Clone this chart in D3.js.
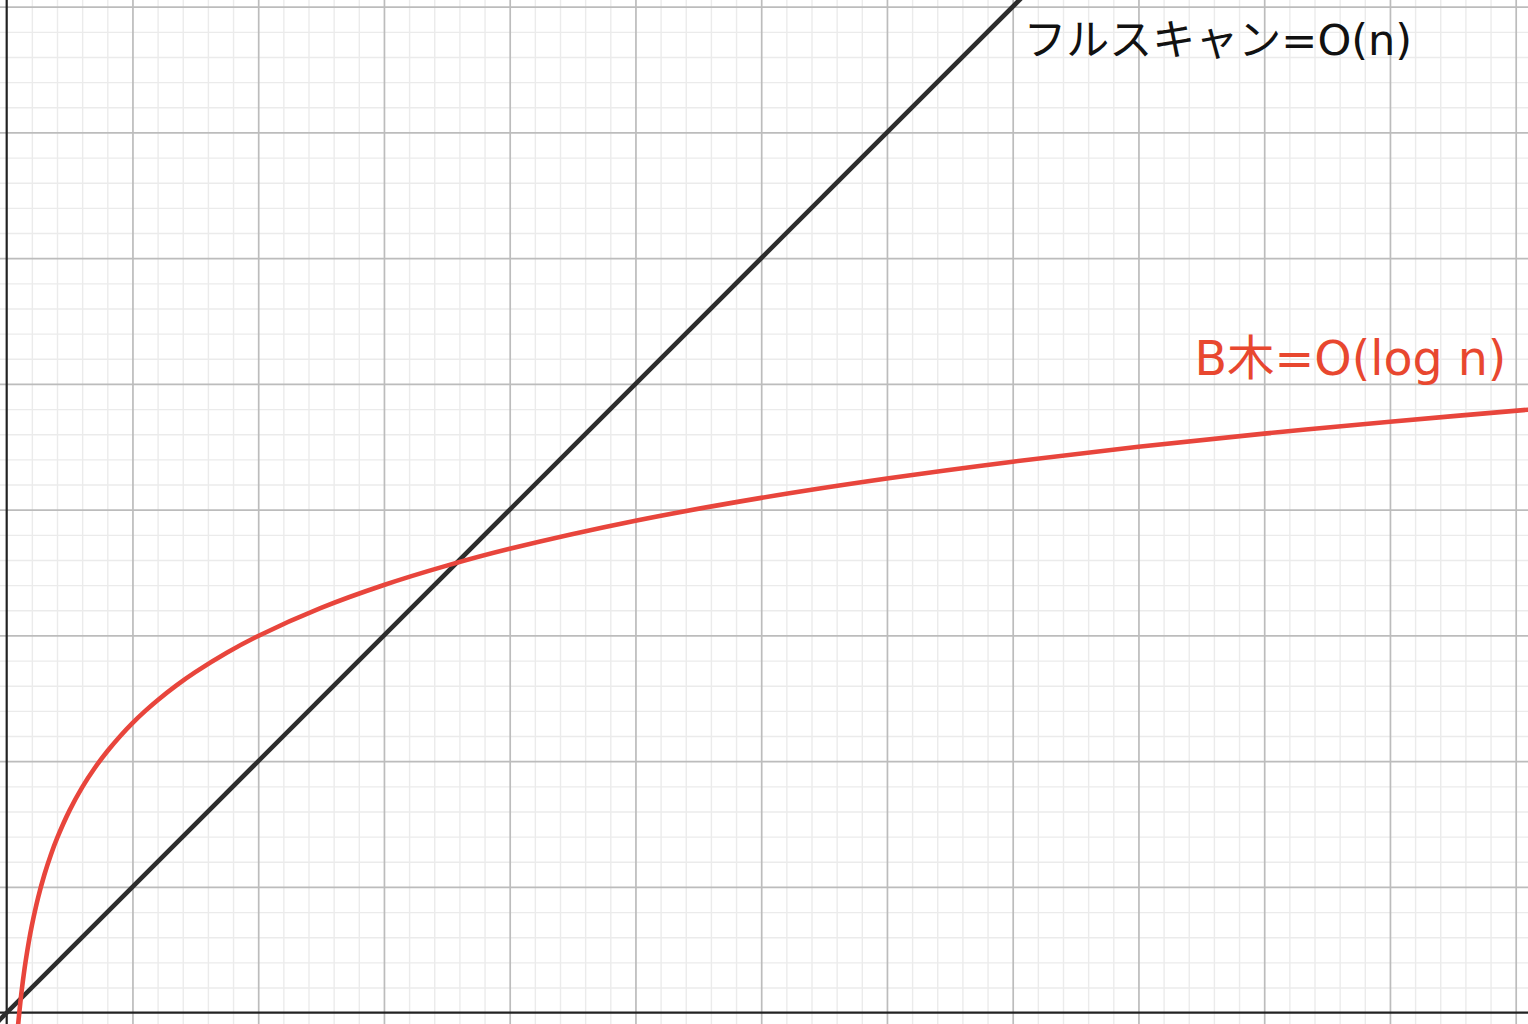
<!DOCTYPE html>
<html>
<head>
<meta charset="utf-8">
<script src="https://cdn.jsdelivr.net/npm/d3@7"></script>
<style>
  html, body { margin: 0; padding: 0; background: #fff; }
  svg { display: block; }
</style>
</head>
<body>
<svg id="chart" width="1528" height="1024"></svg>
<script>
// ---- data ----
const bTreeN = [0.088, 0.1, 0.11, 0.12, 0.135, 0.15, 0.175, 0.2, 0.25, 0.3, 0.35, 0.4, 0.5, 0.6, 0.7, 0.8, 0.9, 1.0, 1.1, 1.2, 1.35, 1.5, 1.75, 2.0, 2.5, 3.0, 3.5, 4.0, 5.0, 6.0, 7.0, 8.0, 9.0, 10.0, 11.0, 12.2];
const bTreeCost = [-0.128, 0.0, 0.095, 0.182, 0.300, 0.405, 0.560, 0.693, 0.916, 1.099, 1.253, 1.386, 1.609, 1.792, 1.946, 2.079, 2.197, 2.303, 2.398, 2.485, 2.603, 2.708, 2.862, 2.996, 3.219, 3.401, 3.555, 3.689, 3.912, 4.094, 4.248, 4.382, 4.500, 4.605, 4.700, 4.804];
const fullScanN = [-0.2, 9.0];
const fullScanCost = [-0.2, 9.0];
const seriesLabels = ["フルスキャン=O(n)", "B木=O(log n)"];

// ---- layout ----
const W = 1528, H = 1024;
const unit = 125.75;
const originX = 6.7, originY = 1012.7;

const x = d3.scaleLinear()
  .domain([-originX / unit, (W - originX) / unit])
  .range([0, W]);
const y = d3.scaleLinear()
  .domain([-(H - originY) / unit, originY / unit])
  .range([H, 0]);

const svg = d3.select("#chart");

svg.append("defs").append("clipPath").attr("id", "clip")
  .append("rect").attr("x", 0).attr("y", 0).attr("width", W).attr("height", H);

const grid = svg.append("g");

const minorX = d3.range(Math.ceil(x.domain()[0] * 5), Math.floor(x.domain()[1] * 5) + 1).map(d => d / 5).filter(d => Math.abs(d - Math.round(d)) > 1e-6);
const minorY = d3.range(Math.ceil(y.domain()[0] * 5), Math.floor(y.domain()[1] * 5) + 1).map(d => d / 5).filter(d => Math.abs(d - Math.round(d)) > 1e-6);
const majorX = d3.range(Math.ceil(x.domain()[0]), Math.floor(x.domain()[1]) + 1).filter(d => d !== 0);
const majorY = d3.range(Math.ceil(y.domain()[0]), Math.floor(y.domain()[1]) + 1).filter(d => d !== 0);

function gridAxis(g, axis) {
  g.call(axis);
  g.select(".domain").remove();
  g.selectAll("text").remove();
}

// minor grid
grid.append("g").attr("transform", `translate(0,${H})`)
  .call(g => gridAxis(g, d3.axisBottom(x).tickValues(minorX).tickSize(-H)))
  .selectAll("line").attr("stroke", "#ebebeb").attr("stroke-width", 1.4);
grid.append("g")
  .call(g => gridAxis(g, d3.axisLeft(y).tickValues(minorY).tickSize(-W)))
  .selectAll("line").attr("stroke", "#ebebeb").attr("stroke-width", 1.4);
// major grid
grid.append("g").attr("transform", `translate(0,${H})`)
  .call(g => gridAxis(g, d3.axisBottom(x).tickValues(majorX).tickSize(-H)))
  .selectAll("line").attr("stroke", "#bcbcbc").attr("stroke-width", 1.7);
grid.append("g")
  .call(g => gridAxis(g, d3.axisLeft(y).tickValues(majorY).tickSize(-W)))
  .selectAll("line").attr("stroke", "#bcbcbc").attr("stroke-width", 1.7);

// axes
grid.append("line")
  .attr("x1", 0).attr("x2", W).attr("y1", y(0)).attr("y2", y(0))
  .attr("stroke", "#222").attr("stroke-width", 2.2);
grid.append("line")
  .attr("x1", x(0)).attr("x2", x(0)).attr("y1", 0).attr("y2", H)
  .attr("stroke", "#222").attr("stroke-width", 2.2);

const plot = svg.append("g").attr("clip-path", "url(#clip)");

const line = d3.line().x(d => x(d[0])).y(d => y(d[1]));
const smooth = d3.line().x(d => x(d[0])).y(d => y(d[1])).curve(d3.curveCatmullRom.alpha(0.5));

plot.append("path")
  .datum(fullScanN.map((n, i) => [n, fullScanCost[i]]))
  .attr("d", line)
  .attr("fill", "none").attr("stroke", "#2d2d2d").attr("stroke-width", 4.6);

plot.append("path")
  .datum(bTreeN.map((n, i) => [n, bTreeCost[i]]))
  .attr("d", smooth)
  .attr("fill", "none").attr("stroke", "#e8453c").attr("stroke-width", 4.6);

// labels
const labelFont = "'DejaVu Sans', 'Noto Sans CJK JP', sans-serif";
svg.append("text")
  .attr("x", x(8.085)).attr("y", y(7.616))
  .attr("font-family", labelFont)
  .attr("font-size", 43)
  .attr("fill", "#111")
  .text(seriesLabels[0]);

svg.append("text")
  .attr("x", x(9.445)).attr("y", y(5.071))
  .attr("font-family", labelFont)
  .attr("font-size", 47.5)
  .attr("fill", "#e8472f")
  .text(seriesLabels[1]);
</script>
</body>
</html>
